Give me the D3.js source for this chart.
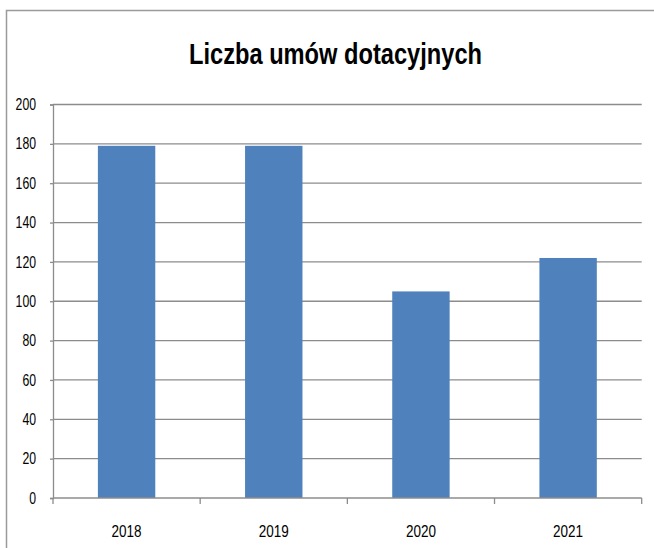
<!DOCTYPE html>
<html>
<head>
<meta charset="utf-8">
<script src="https://cdn.jsdelivr.net/npm/d3@7"></script>
<style>
  body { margin: 0; background: #fff; }
  svg text { font-family: "Liberation Sans Narrow", "Arial Narrow", "Liberation Sans", sans-serif; fill: #000; }
</style>
</head>
<body>
<div id="chart"></div>
<script>
var years = ["2018", "2019", "2020", "2021"];
var umowy = [179, 179, 105, 122];
var yTicks = [0, 20, 40, 60, 80, 100, 120, 140, 160, 180, 200];
var title = "Liczba umów dotacyjnych";

var width = 654, height = 548,
    margin = {top: 104.5, right: 12.3, bottom: 50, left: 53};

var svg = d3.select("#chart").append("svg")
    .attr("width", width)
    .attr("height", height);

// ramka wykresu (tylko lewa i górna krawędź widoczna)
svg.append("path")
    .attr("d", "M6.5,548 V10.5 H654")
    .attr("fill", "none")
    .attr("stroke", "#9a9a9a")
    .attr("stroke-width", 1.5);

var x = d3.scaleBand()
    .domain(years)
    .range([margin.left, width - margin.right])
    .paddingInner(0.61)
    .paddingOuter(0.305);

var y = d3.scaleLinear()
    .domain([0, 200])
    .range([height - margin.bottom, margin.top]);

// linie siatki
svg.append("g")
  .selectAll("line")
  .data(yTicks.slice(1))
  .enter().append("line")
    .attr("x1", margin.left)
    .attr("x2", width - margin.right)
    .attr("y1", function(d) { return y(d); })
    .attr("y2", function(d) { return y(d); })
    .attr("stroke", "#8c8c8c")
    .attr("stroke-width", 1.3);

// słupki
svg.append("g")
  .selectAll("rect")
  .data(umowy)
  .enter().append("rect")
    .attr("x", function(d, i) { return x(years[i]); })
    .attr("width", x.bandwidth())
    .attr("y", function(d) { return y(d); })
    .attr("height", function(d) { return y(0) - y(d); })
    .attr("fill", "#4f81bd");

// oś Y
var yAxis = d3.axisLeft(y)
    .tickValues(yTicks)
    .tickSize(3)
    .tickPadding(14);

var gy = svg.append("g")
    .attr("transform", "translate(" + margin.left + ",0)")
    .call(yAxis);
gy.select(".domain").attr("stroke", "#8c8c8c").attr("stroke-width", 1.3);
gy.selectAll(".tick line").attr("stroke", "#8c8c8c").attr("stroke-width", 1.3);
gy.selectAll(".tick text")
    .style("font-size", "16px")
    .attr("textLength", function(d) { return String(d).length * 6.8; })
    .attr("lengthAdjust", "spacingAndGlyphs");

// oś X
var gx = svg.append("g")
    .attr("transform", "translate(0," + y(0) + ")");
gx.append("line")
    .attr("x1", margin.left)
    .attr("x2", width - margin.right)
    .attr("stroke", "#8c8c8c")
    .attr("stroke-width", 1.3);
gx.selectAll(".xtick")
  .data(d3.range(years.length + 1))
  .enter().append("line")
    .attr("class", "xtick")
    .attr("x1", function(i) { return x.range()[0] + i * x.step(); })
    .attr("x2", function(i) { return x.range()[0] + i * x.step(); })
    .attr("y1", 0)
    .attr("y2", 6)
    .attr("stroke", "#8c8c8c")
    .attr("stroke-width", 1.3);
gx.selectAll(".xlabel")
  .data(years)
  .enter().append("text")
    .attr("class", "xlabel")
    .attr("x", function(d) { return x(d) + x.bandwidth() / 2; })
    .attr("y", 33)
    .attr("dy", "0.35em")
    .attr("text-anchor", "middle")
    .style("font-size", "16px")
    .attr("textLength", 30)
    .attr("lengthAdjust", "spacingAndGlyphs")
    .text(function(d) { return d; });

// tytuł
svg.append("text")
    .attr("x", 335.5)
    .attr("y", 63.5)
    .attr("text-anchor", "middle")
    .style("font-size", "30px")
    .style("font-weight", "bold")
    .attr("textLength", 293)
    .attr("lengthAdjust", "spacingAndGlyphs")
    .text(title);
</script>
</body>
</html>
